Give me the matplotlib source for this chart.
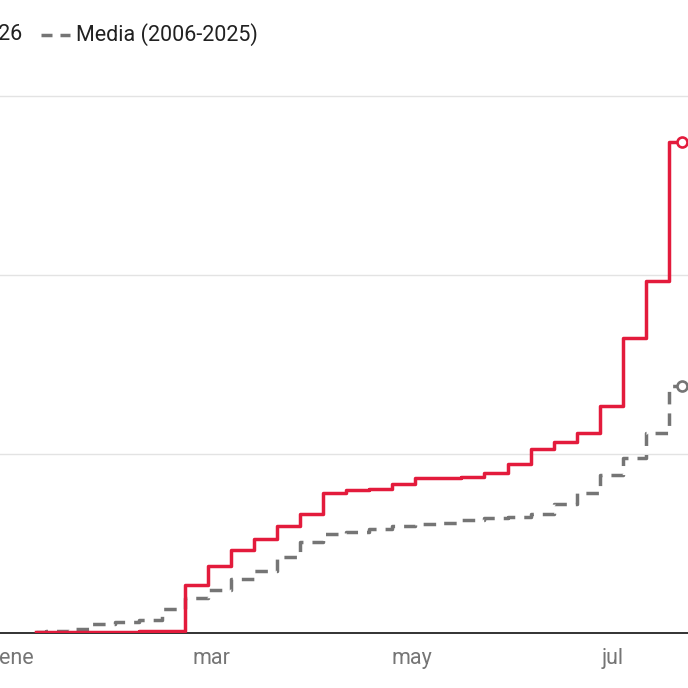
import matplotlib
matplotlib.use("Agg")
import matplotlib.pyplot as plt
import matplotlib.dates as mdates
from matplotlib.lines import Line2D
import pandas as pd

plt.rcParams['font.family'] = ['Roboto', 'DejaVu Sans']
plt.rcParams['lines.scale_dashes'] = False

# Data (cumulative, thousands) -- weekly dates in 2026
dates = ["2026-01-07", "2026-01-10", "2026-01-17", "2026-01-24", "2026-01-31",
         "2026-02-07", "2026-02-14", "2026-02-21", "2026-02-28", "2026-03-07",
         "2026-03-14", "2026-03-21", "2026-03-28", "2026-04-04", "2026-04-11",
         "2026-04-18", "2026-04-25", "2026-05-02", "2026-05-09", "2026-05-16",
         "2026-05-23", "2026-05-30", "2026-06-06", "2026-06-13", "2026-06-20",
         "2026-06-27", "2026-07-04", "2026-07-11", "2026-07-18", "2026-07-22"]
serie_2026 = [0.03, 0.03, 0.03, 0.06, 0.06, 0.10, 0.10, 2.68, 3.74, 4.64,
              5.25, 5.98, 6.65, 7.82, 7.99, 8.04, 8.32, 8.66, 8.66, 8.72,
              8.94, 9.44, 10.28, 10.67, 11.17, 12.68, 16.48, 19.66, 27.43, 27.43]
serie_media = [0.06, 0.11, 0.22, 0.50, 0.61, 0.73, 1.34, 1.96, 2.40, 3.02,
               3.46, 4.25, 5.08, 5.53, 5.64, 5.81, 5.98, 6.09, 6.16, 6.31,
               6.42, 6.50, 6.65, 7.21, 7.82, 8.83, 9.78, 11.17, 13.80, 13.80]
y_grid = [10, 20, 30]
tick_dates = ["2026-01-01", "2026-03-01", "2026-05-01", "2026-07-01"]
tick_labels = ["ene", "mar", "may", "jul"]
legend_labels = ["2026", "Media (2006-2025)"]

RED = "#e31b3c"
GRAY = "#757575"
LW = 2.5
DASH = (9, 6.5)

W = H = 688
fig = plt.figure(figsize=(6.88, 6.88), dpi=100)

y0_px, y_per_unit = 633.0, 17.9
ytop = 30.3
top_px = y0_px - ytop * y_per_unit
ax = fig.add_axes([0, (H - y0_px) / H, 1, (y0_px - top_px) / H])

x = mdates.date2num(pd.to_datetime(dates))
jan1 = mdates.date2num(pd.Timestamp("2026-01-01"))
px_per_day = 3.295
ax.set_xlim(jan1 - 16.6 / px_per_day, jan1 + (W - 16.6) / px_per_day)
ax.set_ylim(0, ytop)

for g in y_grid:
    ax.axhline(g, color="#e3e3e3", lw=1.0, zorder=0)

ax.plot(x, serie_media, drawstyle="steps-post", color=GRAY, lw=LW,
        dashes=DASH, zorder=3)
ax.plot(x, serie_2026, drawstyle="steps-post", color=RED, lw=LW, zorder=4)
ax.plot(x[-1], serie_media[-1], 'o', ms=7.2, mfc='white', mec=GRAY, mew=1.9,
        zorder=5, clip_on=False)
ax.plot(x[-1], serie_2026[-1], 'o', ms=7.2, mfc='white', mec=RED, mew=1.9,
        zorder=5, clip_on=False)

for s in ["top", "right", "left"]:
    ax.spines[s].set_visible(False)
ax.spines["bottom"].set_color("#222222")
ax.spines["bottom"].set_linewidth(1.3)
ax.spines["bottom"].set_zorder(2)

ax.set_yticks([])
ax.set_xticks(mdates.date2num(pd.to_datetime(tick_dates)))
ax.set_xticklabels(tick_labels)
ax.tick_params(axis='x', length=0, pad=10.5, labelsize=15.5, labelcolor=GRAY)

# Legend (partially off-canvas on the left, as in the reference)
ly = 1 - 35 / H
fig.add_artist(Line2D([-75 / W, -45 / W], [ly, ly], color=RED, lw=LW,
                      transform=fig.transFigure))
fig.text(22 / W, ly, legend_labels[0], ha='right', va='center',
         fontsize=15.5, color="#212121")
fig.add_artist(Line2D([41 / W, 70 / W], [ly, ly], color=GRAY, lw=LW,
                      dashes=(11 / 1.39, 8 / 1.39), transform=fig.transFigure))
fig.text(76 / W, ly, legend_labels[1], ha='left', va='center',
         fontsize=15.5, color="#212121")

fig.savefig("out.png", dpi=100)
